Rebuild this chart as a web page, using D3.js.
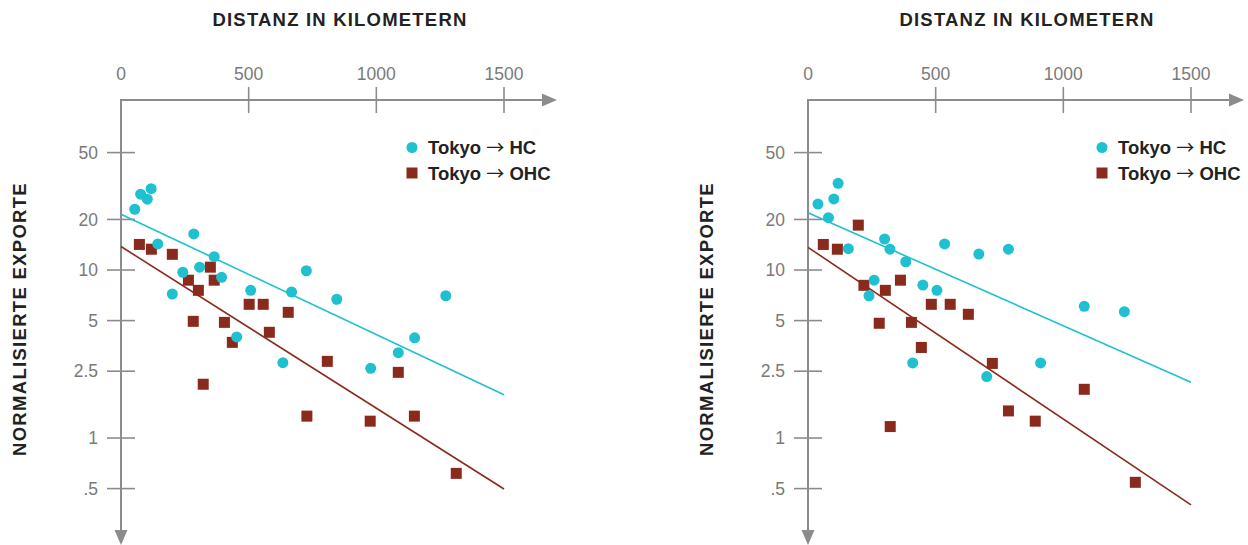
<!DOCTYPE html>
<html>
<head>
<meta charset="utf-8">
<script src="https://cdn.jsdelivr.net/npm/d3@7"></script>
<style>
  html, body { margin: 0; padding: 0; background: #fff; }
  svg { display: block; }
</style>
</head>
<body>
<svg id="chart" width="1248" height="545"></svg>
<script>
// ---------- DATA ----------
const xTickValues = [0, 500, 1000, 1500];
const xTickLabels = ["0", "500", "1000", "1500"];
const yTickValues = [50, 20, 10, 5, 2.5, 1, 0.5];
const yTickLabels = ["50", "20", "10", "5", "2.5", "1", ".5"];
const seriesOrigin = "Tokyo";
const seriesTargets = ["HC", "OHC"];
const xTitle = "DISTANZ IN KILOMETERN";
const yTitle = "NORMALISIERTE EXPORTE";

// Left panel: [distance km, normalised exports]
const leftHC = [
  [54, 23.0], [77, 28.3], [103, 26.4], [118, 30.5], [144, 14.3], [285, 16.4],
  [242, 9.7], [201, 7.2], [308, 10.4], [365, 12.0], [394, 9.05], [508, 7.57],
  [453, 4.0], [668, 7.4], [726, 9.9], [845, 6.7], [634, 2.81], [978, 2.6],
  [1086, 3.22], [1150, 3.95], [1272, 7.03]
];
const leftOHC = [
  [72, 14.2], [119, 13.3], [201, 12.4], [264, 8.7], [350, 10.4], [365, 8.7],
  [303, 7.57], [283, 4.95], [405, 4.88], [436, 3.71], [502, 6.25], [557, 6.25],
  [655, 5.6], [581, 4.26], [808, 2.86], [322, 2.09], [1086, 2.46], [976, 1.26],
  [1149, 1.35], [1313, 0.616], [728, 1.35]
];
const leftFitHC = [[0, 21.5], [1500, 1.81]];
const leftFitOHC = [[0, 13.8], [1500, 0.497]];

// Right panel
const rightHC = [
  [39, 24.7], [80, 20.5], [101, 26.5], [118, 32.8], [158, 13.4], [300, 15.3],
  [321, 13.3], [383, 11.2], [259, 8.7], [239, 7.03], [450, 8.14], [505, 7.57],
  [535, 14.3], [669, 12.45], [785, 13.3], [410, 2.8], [700, 2.32], [1082, 6.08],
  [1239, 5.65], [911, 2.8]
];
const rightOHC = [
  [60, 14.2], [115, 13.3], [197, 18.5], [219, 8.11], [303, 7.57], [362, 8.7],
  [279, 4.82], [405, 4.88], [483, 6.25], [557, 6.25], [628, 5.45], [444, 3.46],
  [722, 2.78], [785, 1.45], [322, 1.17], [1082, 1.95], [890, 1.26], [1282, 0.545]
];
const rightFitHC = [[0, 21.9], [1500, 2.15]];
const rightFitOHC = [[0, 13.65], [1500, 0.40]];

// ---------- STYLE ----------
const colHC = "#1fc0cf";
const colOHC = "#8a2a1d";
const axisCol = "#8c8c8c";
const tickTextCol = "#7a7a7a";
const font = "'Liberation Sans', Arial, Helvetica, sans-serif";

const svg = d3.select("#chart");

function drawPanel(ox, hc, ohc, fitHC, fitOHC, legendX) {
  const g = svg.append("g");
  const x = d3.scaleLinear().domain([0, 1500]).range([ox, ox + 383]);
  const y = d3.scaleLog().domain([0.5, 50]).range([488.6, 152.6]);
  const axisY = 100;

  // axis lines
  g.append("line").attr("x1", ox).attr("x2", x(1500) + 40)
    .attr("y1", axisY).attr("y2", axisY)
    .attr("stroke", axisCol).attr("stroke-width", 2);
  g.append("line").attr("x1", ox).attr("x2", ox)
    .attr("y1", axisY - 1).attr("y2", 532)
    .attr("stroke", axisCol).attr("stroke-width", 2);
  // arrowheads
  const tipX = x(1500) + 53;
  g.append("path")
    .attr("d", `M${tipX},${axisY} L${tipX - 15},${axisY - 6.5} L${tipX - 15},${axisY + 6.5} Z`)
    .attr("fill", axisCol);
  g.append("path")
    .attr("d", `M${ox},545 L${ox - 6.5},530 L${ox + 6.5},530 Z`)
    .attr("fill", axisCol);

  // x ticks
  xTickValues.forEach((v, i) => {
    if (v !== 0) {
      g.append("line").attr("x1", x(v)).attr("x2", x(v))
        .attr("y1", axisY - 13).attr("y2", axisY + 13)
        .attr("stroke", axisCol).attr("stroke-width", 1.6);
    }
    g.append("text").attr("x", x(v)).attr("y", 79.5)
      .attr("text-anchor", "middle")
      .attr("font-family", font).attr("font-size", 17.5)
      .attr("fill", tickTextCol).text(xTickLabels[i]);
  });

  // y ticks
  yTickValues.forEach((v, i) => {
    g.append("line").attr("x1", ox - 14).attr("x2", ox + 14)
      .attr("y1", y(v)).attr("y2", y(v))
      .attr("stroke", axisCol).attr("stroke-width", 1.6);
    g.append("text").attr("x", ox - 23).attr("y", y(v) + 6.3)
      .attr("text-anchor", "end")
      .attr("font-family", font).attr("font-size", 17.5)
      .attr("fill", tickTextCol).text(yTickLabels[i]);
  });

  // titles
  g.append("text").attr("x", ox + 219).attr("y", 26)
    .attr("text-anchor", "middle")
    .attr("font-family", font).attr("font-size", 18.5).attr("font-weight", "bold")
    .attr("letter-spacing", 1.2).attr("fill", "#222").text(xTitle);
  g.append("text")
    .attr("transform", `translate(${ox - 95},319) rotate(-90)`)
    .attr("text-anchor", "middle")
    .attr("font-family", font).attr("font-size", 18.5).attr("font-weight", "bold")
    .attr("letter-spacing", 1.3).attr("fill", "#222").text(yTitle);

  // regression lines
  const line = d3.line().x(d => x(d[0])).y(d => y(d[1]));
  g.append("path").datum(fitHC).attr("d", line)
    .attr("fill", "none").attr("stroke", colHC).attr("stroke-width", 1.6);
  g.append("path").datum(fitOHC).attr("d", line)
    .attr("fill", "none").attr("stroke", colOHC).attr("stroke-width", 1.6);

  // points
  const s = 11;
  g.selectAll(".ohc").data(ohc).enter().append("rect")
    .attr("x", d => x(d[0]) - s / 2).attr("y", d => y(d[1]) - s / 2)
    .attr("width", s).attr("height", s).attr("fill", colOHC);
  g.selectAll(".hc").data(hc).enter().append("circle")
    .attr("cx", d => x(d[0])).attr("cy", d => y(d[1])).attr("r", 5.5)
    .attr("fill", colHC);

  // legend
  g.append("circle").attr("cx", legendX).attr("cy", 147.5).attr("r", 5.5).attr("fill", colHC);
  g.append("rect").attr("x", legendX - 5.5).attr("y", 167.5).attr("width", 11).attr("height", 11).attr("fill", colOHC);
  [[seriesTargets[0], 154], [seriesTargets[1], 180]].forEach(([t, yy]) => {
    const tx = g.append("text").attr("x", legendX + 16).attr("y", yy)
      .attr("font-family", font).attr("font-size", 18.5).attr("font-weight", "bold")
      .attr("fill", "#222");
    tx.append("tspan").text(seriesOrigin + " ");
    tx.append("tspan").attr("font-family", "'Noto Sans CJK JP', 'Noto Sans CJK SC', sans-serif")
      .attr("font-weight", "normal").attr("font-size", 18).text("\u2192");
    tx.append("tspan").text(" " + t);
  });
}

drawPanel(121, leftHC, leftOHC, leftFitHC, leftFitOHC, 412);
drawPanel(808, rightHC, rightOHC, rightFitHC, rightFitOHC, 1102);
</script>
</body>
</html>
